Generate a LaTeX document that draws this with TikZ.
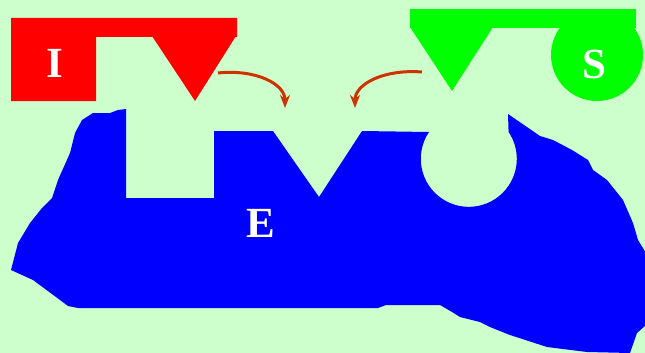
\documentclass[tikz,border=0pt]{standalone}
\usepackage{fontspec}
\setmainfont{Liberation Serif}
\usepackage{xcolor}
\usetikzlibrary{arrows.meta}
\definecolor{bgmint}{RGB}{204,255,204}
\definecolor{fitarrow}{RGB}{204,51,0}

\begin{document}
\begin{tikzpicture}[
		x=1pt, y=-1pt,
		letter/.style={text=white, font=\fontsize{43}{43}\selectfont\bfseries, inner sep=0pt},
		fitline/.style={draw=fitarrow, line width=3pt, arrows={-Stealth[length=13pt,width=10pt,inset=4pt]}}
		]
		
		\fill[bgmint] (0,0) rectangle (645,353);
		\useasboundingbox (0,0) rectangle (645,353);
		
		% inhibitor I
		\fill[red] (11,18) -- (237,18) -- (237,37) -- (96,37) -- (96,101) -- (11,101) -- cycle;
		\fill[red] (152,36) -- (236,36) -- (195,101) -- cycle;
		
		% substrate S
		\fill[green] (410,9) -- (636,9) -- (636,28) -- (410,28) -- cycle;
		\fill[green] (410,27) -- (493,27) -- (452,91) -- cycle;
		\fill[green] (597,55) circle[radius=46];
		
		% enzyme E with its sites
		\fill[blue] (126,109) -- (126,198) -- (214,198) -- (214,131) -- (273,131) -- (319,197)
			-- (362,131) -- (429,132) arc[start angle=214, end angle=-34, radius=48]
			-- (508,114) -- (540,136) -- (553,140) -- (572,150) -- (588,160) -- (593,170)
			-- (607,180) -- (623,200) -- (633,223) -- (638,240) -- (646,253) -- (646,325)
			-- (637,333) -- (630,353) -- (587,352) -- (547,347) -- (510,335) -- (490,327)
			-- (480,322) -- (460,317) -- (452,312) -- (440,305) -- (386,305) -- (378,308)
			-- (78,308) -- (68,306) -- (60,300) -- (33,280) -- (11,270) -- (18,243)
			-- (30,223) -- (42,208) -- (52,198) -- (58,180) -- (70,153) -- (75,133)
			-- (82,120) -- (93,113) -- (110,113) -- (118,110) -- cycle;
		
		\node[letter] (inh) at (55,63) {I};
		\node[letter] (sub) at (594,64) {S};
		\node[letter] (enz) at (261,223) {E};
		
		\coordinate (redtail) at (218,73);
		\coordinate (redhead) at (285,108);
		\coordinate (greentail) at (422,72);
		\coordinate (greenhead) at (355,108);
		
		\draw[fitline] (redtail) .. controls +(38,-4) and +(0,-24) .. (redhead);
		\draw[fitline] (greentail) .. controls +(-38,-3) and +(0,-24) .. (greenhead);
		
	\end{tikzpicture}
\end{document}
